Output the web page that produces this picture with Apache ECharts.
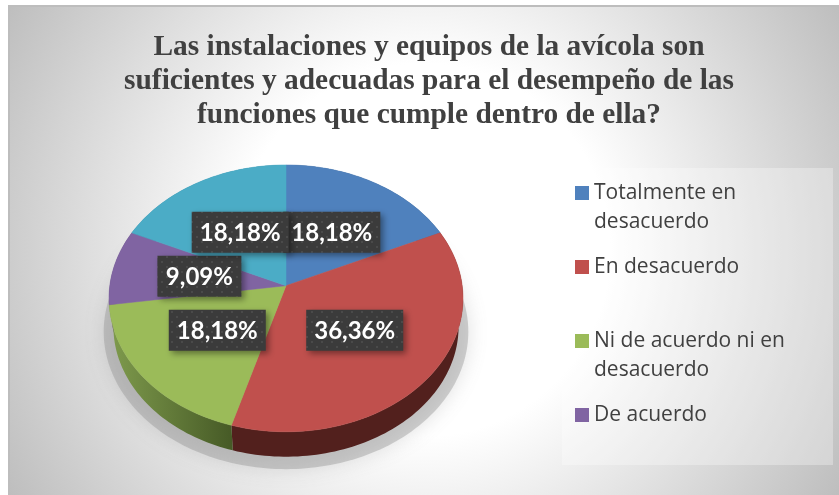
<!DOCTYPE html>
<html lang="es">
<head>
    <meta charset="UTF-8">
    <title>Instalaciones y equipos de la avícola</title>
    <script src="https://cdn.jsdelivr.net/npm/echarts@6/dist/echarts.min.js"></script>
    <style>
        *{ padding:0; margin:0; }
        html,body{ background:#fff; overflow:hidden; }
        #chart{ width:839px; height:495px; }
    </style>
</head>
<body>
<div id="chart"></div>
<script type="text/javascript">
    var categories = ['Totalmente en desacuerdo', 'En desacuerdo', 'Ni de acuerdo ni en desacuerdo', 'De acuerdo', 'Totalmente de acuerdo'];
    // a blank first line keeps the swatch level with the real first line
    var legendLabels = ['\nTotalmente en\ndesacuerdo', '\nEn desacuerdo\n ', '\nNi de acuerdo ni en\ndesacuerdo', '\nDe acuerdo\n '];
    var values = [18.18, 36.36, 18.18, 9.09, 18.18];
    var colors = ['#4f81bd', '#c0504d', '#9bbb59', '#8064a2', '#4bacc6'];
    var titleText = 'Las instalaciones y equipos de la avícola son\nsuficientes y adecuadas para el desempeño de las\nfunciones que cumple dentro de ella?';

    // the tilted disc: projective mapping of the unit circle
    var cx = 286, cy = 285.7, a = 176.2, b = 132.2, k = -0.0949;
    var depth = 28.6, baseScale = 0.975;
    var total = values.reduce(function (s, v) { return s + v; }, 0);

    function project(theta, r) {
        var x = Math.sin(theta) * r, y = -Math.cos(theta) * r, d = 1 + k * y;
        return [a * x / d, b * y / d];
    }
    function arc(from, to, scale, dy) {
        var pts = [], n = Math.max(2, Math.ceil((to - from) * 40));
        for (var j = 0; j <= n; j++) {
            var p = project(from + (to - from) * j / n, 1);
            pts.push([cx + p[0] * scale, cy + p[1] * scale + dy]);
        }
        return pts;
    }
    function startAngle(i) {
        var s = 0;
        for (var j = 0; j < i; j++) s += values[j];
        return s / total * Math.PI * 2;
    }
    var sideColors = [
        ['#3a5a80', '#3a5a80'],
        ['#4a1c1a', '#52201d'],
        ['#7f9b4d', '#465a26'],
        ['#5d4876', '#5d4876'],
        ['#35809a', '#35809a']
    ];

    // dotted texture of the label boxes
    var dots = document.createElement('canvas');
    dots.width = 10; dots.height = 10;
    var g = dots.getContext('2d');
    g.fillStyle = '#3b3b3b'; g.fillRect(0, 0, 10, 10);
    g.fillStyle = '#4a4a4a'; g.fillRect(1, 1, 2, 2); g.fillRect(6, 6, 2, 2);

    function renderSlice(i) {
        return function (params, api) {
            var from = startAngle(i), to = from + api.value(0) / total * Math.PI * 2;
            var top = arc(from, to, 1, 0);
            var topFace = [[cx, cy]].concat(top);
            var side = top.concat(arc(from, to, baseScale, depth).reverse());
            var mid = (from + to) / 2, c = project(mid, 0.5);
            var lx = cx + c[0], ly = cy + c[1];
            var text = api.value(0).toFixed(2).replace('.', ',') + '%';
            var w = text.length > 5 ? 97 : 84, h = 41;
            return {
                type: 'group',
                children: [{
                    type: 'polygon',
                    z2: 1,
                    shape: { points: side },
                    style: {
                        fill: new echarts.graphic.LinearGradient(109, 0, 462, 0, [
                            { offset: 0, color: sideColors[i][0] },
                            { offset: 0.35, color: sideColors[i][1] },
                            { offset: 1, color: sideColors[i][1] }
                        ], true)
                    }
                }, {
                    type: 'polygon',
                    z2: 2,
                    shape: { points: topFace },
                    style: { fill: colors[i], stroke: colors[i], lineWidth: 0.5 }
                }, {
                    type: 'rect',
                    z2: 10 + i * 2,
                    shape: { x: lx - w / 2, y: ly - h / 2, width: w, height: h },
                    style: {
                        fill: { image: dots, repeat: 'repeat' },
                        shadowBlur: 6,
                        shadowOffsetX: 3,
                        shadowOffsetY: 3,
                        shadowColor: 'rgba(0,0,0,0.4)'
                    }
                }, {
                    type: 'text',
                    z2: 11 + i * 2,
                    style: {
                        text: text,
                        x: lx,
                        y: ly + 1,
                        align: 'center',
                        verticalAlign: 'middle',
                        fill: '#ffffff',
                        font: 'bold 24px Lato'
                    }
                }]
            };
        };
    }

    var series = [{
        type: 'custom',
        name: 'sombra',
        coordinateSystem: 'none',
        silent: true,
        data: [1],
        renderItem: function () {
            var pts = arc(0, Math.PI * 2, 1.03, 0).map(function (p) { return [p[0], p[1] + 33]; });
            return {
                type: 'polygon',
                z2: 0,
                shape: { points: pts },
                style: {
                    fill: 'rgba(140,140,140,0.38)',
                    shadowBlur: 20,
                    shadowColor: 'rgba(120,120,120,0.6)'
                }
            };
        }
    }];
    categories.forEach(function (name, i) {
        series.push({
            type: 'custom',
            name: name,
            coordinateSystem: 'none',
            itemStyle: { color: colors[i] },
            silent: true,
            data: [[values[i]]],
            renderItem: renderSlice(i)
        });
    });

    var myChart = echarts.init(document.getElementById('chart'), null, { renderer: 'canvas' });
    myChart.setOption({
        animation: false,
        backgroundColor: '#ffffff',
        title: {
            text: titleText,
            left: 424,
            top: 25,
            textAlign: 'center',
            textStyle: {
                fontFamily: 'Liberation Serif',
                fontWeight: 'bold',
                fontSize: 29.4,
                lineHeight: 34,
                color: '#404040'
            }
        },
        legend: {
            orient: 'vertical',
            left: 575,
            top: 149.5,
            padding: 0,
            icon: 'rect',
            itemWidth: 14,
            itemHeight: 14,
            itemGap: -13,
            data: categories.slice(0, 4),
            formatter: function (name) {
                return legendLabels[categories.indexOf(name)];
            },
            textStyle: {
                fontFamily: 'Open Sans',
                fontSize: 21,
                lineHeight: 29,
                color: '#404040'
            }
        },
        graphic: [{
            type: 'rect',
            z: -10,
            silent: true,
            shape: { x: 9, y: 6, width: 840, height: 500 },
            style: {
                stroke: '#bdbdbd',
                lineWidth: 2,
                fill: new echarts.graphic.RadialGradient(424, 250, 490, [
                    { offset: 0, color: '#ffffff' },
                    { offset: 0.38, color: '#ffffff' },
                    { offset: 1, color: '#bcbcbc' }
                ], true)
            }
        }, {
            type: 'rect',
            z: -9,
            silent: true,
            shape: { x: 562, y: 168, width: 271, height: 297 },
            style: { fill: 'rgba(255,255,255,0.3)' }
        }],
        series: series
    });
</script>
</body>
</html>
